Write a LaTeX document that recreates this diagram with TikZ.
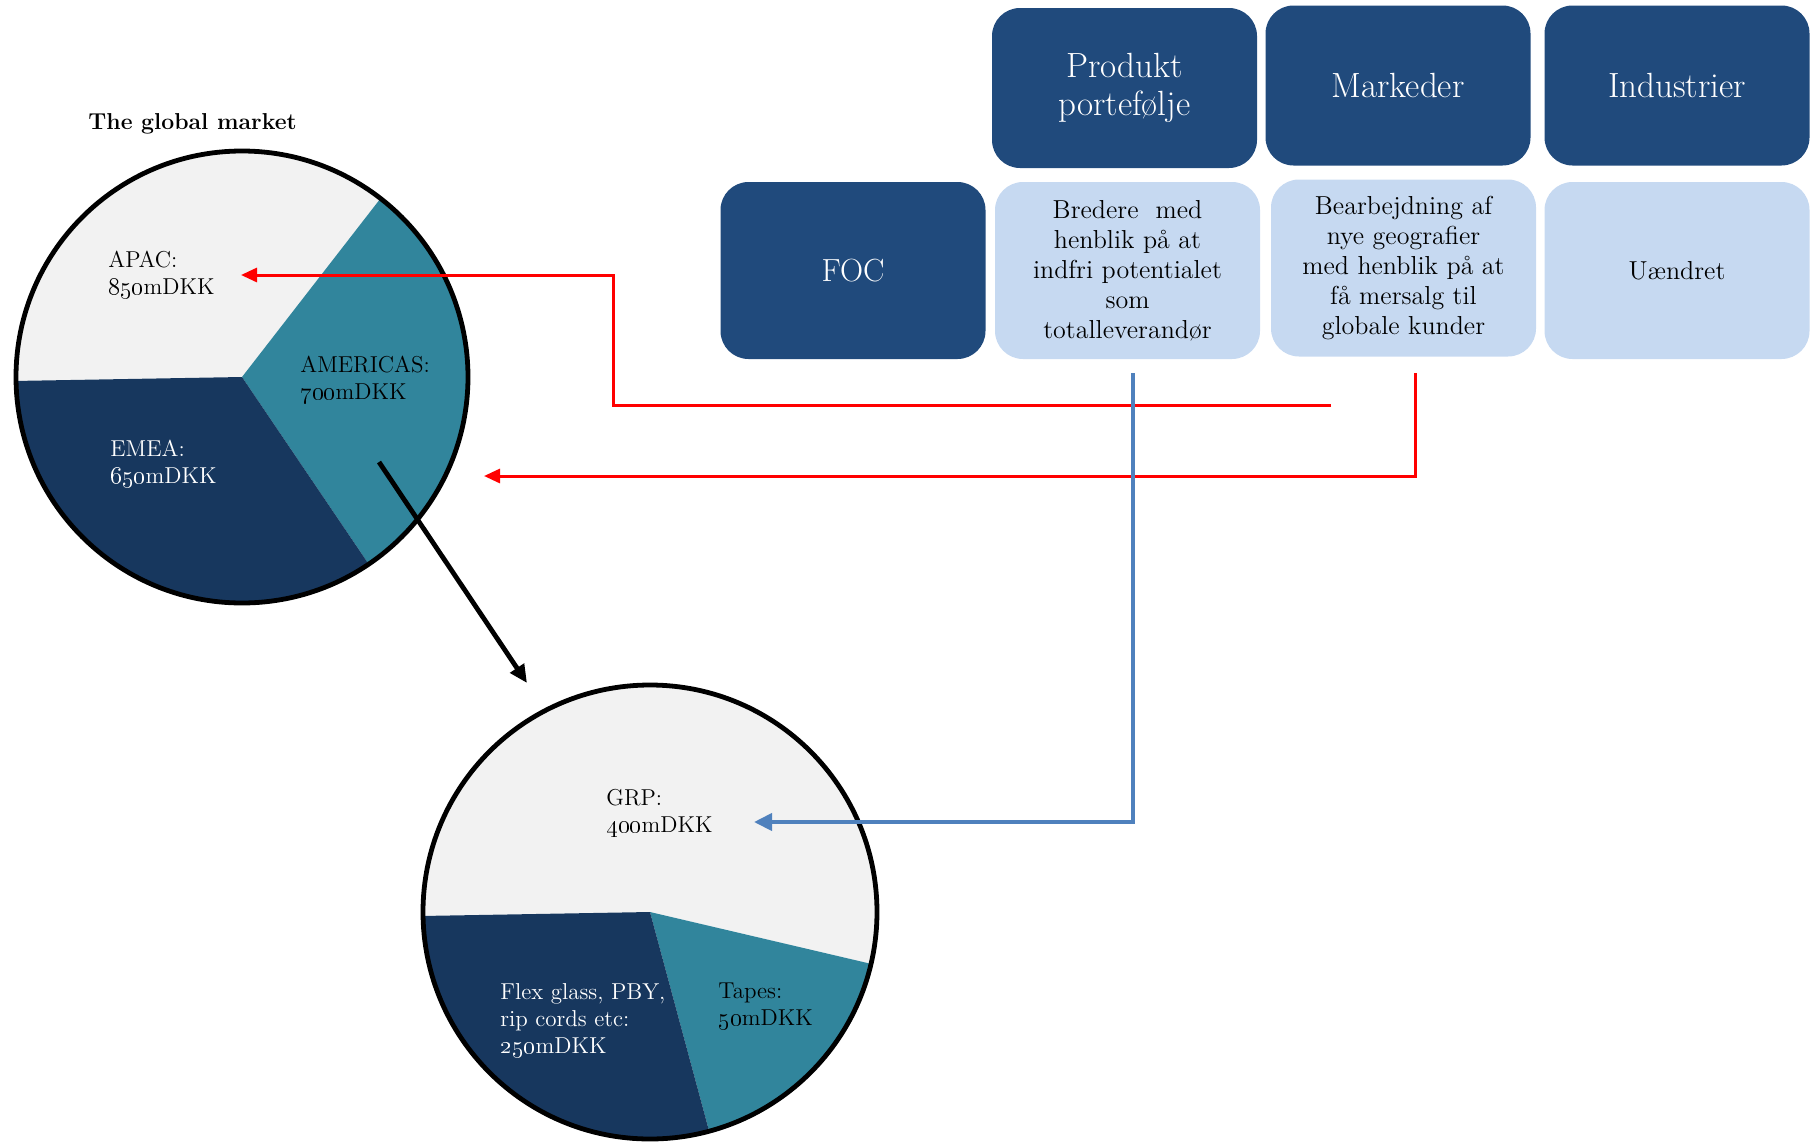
\documentclass[tikz,border=0pt]{standalone}
\usetikzlibrary{arrows.meta,calc}
\definecolor{boxdark}{HTML}{204A7C}
\definecolor{boxlight}{HTML}{C6D9F1}
\definecolor{pieteal}{HTML}{31859C}
\definecolor{pienavy}{HTML}{17375E}
\definecolor{piegrey}{HTML}{F2F2F2}
\definecolor{arrred}{HTML}{FF0000}
\definecolor{arrblue}{HTML}{4F81BD}
\begin{document}
\begin{tikzpicture}[x=0.5pt,y=-0.5pt,
  hdr/.style={rounded corners=14pt, fill=boxdark, text=white, minimum width=132.5pt, minimum height=80pt, align=center, inner sep=0pt, font=\fontsize{17.5}{19}\selectfont},
  cell/.style={rounded corners=14pt, fill=boxlight, text=black, minimum width=132.5pt, minimum height=88.5pt, align=center, inner sep=0pt, font=\fontsize{13}{15}\selectfont},
  rowhdr/.style={rounded corners=14pt, fill=boxdark, text=white, minimum width=132.5pt, minimum height=88.5pt, align=center, inner sep=0pt, font=\fontsize{16}{19}\selectfont},
  lbl/.style={anchor=base west, align=left, inner sep=0pt, font=\fontsize{11.5}{13.5}\selectfont},
  redarr/.style={draw=arrred, line width=1.5pt, -{Triangle[length=8pt,width=7pt]}},
  bluearr/.style={draw=arrblue, line width=2pt, -{Triangle[length=9pt,width=8.5pt]}},
  blackarr/.style={draw=black, line width=2.4pt, -{Triangle[length=9pt,width=8pt]}},
  rim/.style={draw=black, line width=2.4pt}
]
\useasboundingbox (0,0) rectangle (1816,1146);

% header row
\node[hdr] (prod) at (1124.5,88) {Produkt\\portefølje};
\node[hdr] (mark) at (1398,85.5) {Markeder};
\node[hdr] (ind)  at (1677,85.5) {Industrier};
% second row
\node[rowhdr] (foc) at (853,270.5) {FOC};
\node[cell] (bred) at (1127.5,270.5) {Bredere\ \ med\\henblik på at\\indfri potentialet\\som\\totalleverandør};
\node[cell] (bearb) at (1403.5,268) {Bearbejdning af\\nye geografier\\med henblik på at\\få mersalg til\\globale kunder};
\node[cell] (uaend) at (1677,270.5) {Uændret};

% big pie
\node[inner sep=0pt, anchor=base west, font=\bfseries\fontsize{11.5}{14}\selectfont] (title) at (88,129) {The global market};
\coordinate (C1) at (242,377);
\fill[piegrey] (C1) -- ++(-52.2:226) arc[start angle=-52.2, end angle=-181, radius=226] -- cycle;
\fill[pieteal] (C1) -- ++(-52.2:226) arc[start angle=-52.2, end angle=55.9, radius=226] -- cycle;
\fill[pienavy] (C1) -- ++(55.9:226) arc[start angle=55.9, end angle=179, radius=226] -- cycle;
\draw[rim] (C1) circle[radius=226];
\node[lbl] (apac) at (108,294) {APAC:\\\oldstylenums{850}mDKK};
\node[lbl] (amer) at (300,399) {AMERICAS:\\\oldstylenums{700}mDKK};
\node[lbl, text=white] (emea) at (110,483) {EMEA:\\\oldstylenums{650}mDKK};

% small pie
\coordinate (C2) at (650,912);
\fill[piegrey] (C2) -- ++(13.2:227) arc[start angle=13.2, end angle=-181, radius=227] -- cycle;
\fill[pieteal] (C2) -- ++(13.2:227) arc[start angle=13.2, end angle=74.9, radius=227] -- cycle;
\fill[pienavy] (C2) -- ++(74.9:227) arc[start angle=74.9, end angle=179, radius=227] -- cycle;
\draw[rim] (C2) circle[radius=227];
\node[lbl] (grp) at (606,832) {GRP:\\\oldstylenums{400}mDKK};
\node[lbl, text=white] (flex) at (500,1053) {Flex glass, PBY,\\rip cords etc:\\\oldstylenums{250}mDKK};
\node[lbl] (tapes) at (718,1025) {Tapes:\\\oldstylenums{50}mDKK};

% connectors
\coordinate (r1s) at (1331,405);
\coordinate (r1e) at (241,275);
\draw[redarr] (r1s) -- ++(-718,0) |- (r1e);
\coordinate (r2s) at (1415,373);
\coordinate (r2e) at (484,476);
\draw[redarr] (r2s) |- (r2e);
\coordinate (bs) at (1133,373);
\coordinate (be) at (754,822);
\draw[bluearr] (bs) |- (be);
\coordinate (ks) at (379,462);
\coordinate (ke) at (527,683);
\draw[blackarr] (ks) -- (ke);
\end{tikzpicture}
\end{document}
